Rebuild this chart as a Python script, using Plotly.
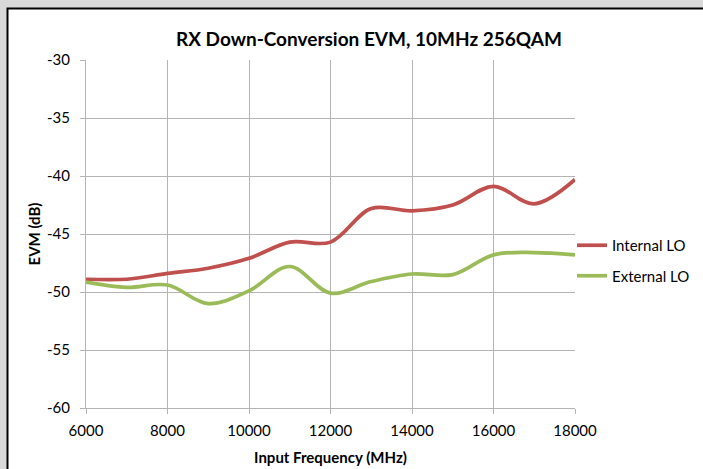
import plotly.graph_objects as go

freq_mhz = [6000, 7000, 8000, 9000, 10000, 11000, 12000, 13000, 14000, 15000, 16000, 17000, 18000]
internal_lo = [-48.9, -48.9, -48.4, -47.95, -47.1, -45.7, -45.7, -42.8, -43.0, -42.5, -40.9, -42.4, -40.3]
external_lo = [-49.15, -49.6, -49.4, -51.0, -49.9, -47.8, -50.1, -49.1, -48.45, -48.5, -46.8, -46.6, -46.8]

x_ticks = [6000, 8000, 10000, 12000, 14000, 16000, 18000]
y_ticks = [-60, -55, -50, -45, -40, -35, -30]

FONT = "Lato, 'Open Sans', sans-serif"
GRID = "#b4b4b4"

fig = go.Figure()
fig.add_trace(go.Scatter(x=freq_mhz, y=internal_lo, name="Internal LO", mode="lines",
                         line=dict(color="#C0504D", width=3.7, shape="spline", smoothing=1),
                         legendgroup="a"))
fig.add_trace(go.Scatter(x=freq_mhz, y=external_lo, name="External LO", mode="lines",
                         line=dict(color="#9BBB59", width=3.7, shape="spline", smoothing=1),
                         legendgroup="b"))

L, R, T, B = 86, 128, 60, 61
W, H = 703, 469
pw, ph = W - L - R, H - T - B

def px_x(p):
    return (p - L) / pw

def px_y(p):
    return (H - B - p) / ph

fig.add_shape(type="rect", xref="paper", yref="paper",
              x0=px_x(7.5), x1=px_x(730), y0=px_y(490), y1=px_y(8.5),
              fillcolor="white", line=dict(color="black", width=2), layer="below")

fig.update_layout(
    width=W, height=H,
    margin=dict(l=L, r=R, t=T, b=B, autoexpand=False),
    paper_bgcolor="#d9d9d9",
    plot_bgcolor="white",
    font=dict(family=FONT, size=15, color="#000000"),
    title=dict(text="<b>RX Down-Conversion EVM, 10MHz 256QAM</b>",
               x=369 / W, xanchor="center", y=1 - 39 / H, yanchor="middle",
               font=dict(family=FONT, size=19, color="#000000")),
    legend=dict(xref="container", yref="container",
                x=572 / W, xanchor="left", y=1 - 260.5 / H, yanchor="middle",
                bgcolor="rgba(0,0,0,0)", tracegroupgap=8,
                font=dict(family=FONT, size=15, color="#000000")),
    showlegend=True,
)
fig.update_xaxes(range=[6000, 18000], tickvals=x_ticks, ticktext=[str(v) for v in x_ticks],
                 showgrid=True, gridcolor=GRID, gridwidth=1,
                 showline=True, linecolor=GRID, linewidth=1,
                 ticks="outside", ticklen=5, tickcolor=GRID, ticklabelstandoff=4,
                 zeroline=False, automargin=False,
                 title=dict(text="<b>Input Frequency (MHz)</b>", standoff=14,
                            font=dict(family=FONT, size=15)))
fig.update_yaxes(range=[-60, -30], tickvals=y_ticks, ticktext=[str(v) for v in y_ticks],
                 showgrid=True, gridcolor=GRID, gridwidth=1,
                 showline=True, linecolor=GRID, linewidth=1,
                 ticks="outside", ticklen=5, tickcolor=GRID, ticklabelstandoff=7,
                 zeroline=False, automargin=False,
                 title=dict(text="<b>EVM (dB)</b>", standoff=2,
                            font=dict(family=FONT, size=15)))

fig.write_html("out.html", config={"displayModeBar": False},
               post_script="document.body.style.margin='0';document.body.style.padding='0';")
